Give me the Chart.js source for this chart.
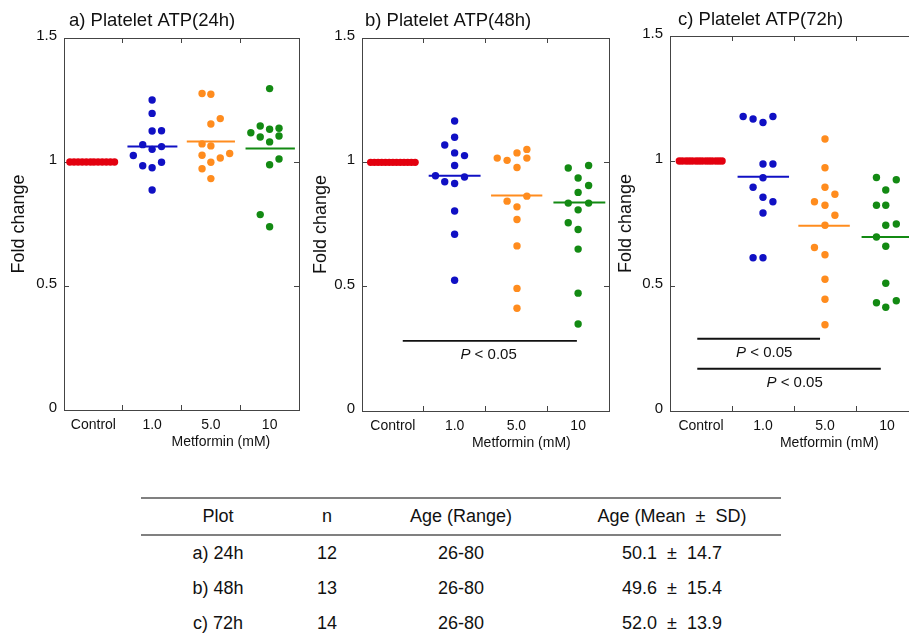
<!DOCTYPE html>
<html>
<head>
<meta charset="utf-8">
<script src="https://cdn.jsdelivr.net/npm/chart.js@4.4.1/dist/chart.umd.min.js"></script>
<style>
  html, body { margin: 0; padding: 0; background: #fff; }
  body { width: 909px; height: 635px; overflow: hidden; position: relative; font-family: "Liberation Sans", Arial, sans-serif; }
  canvas { position: absolute; top: 0; }
  #cA { left: 0; }
  #cB { left: 305px; }
  #cC { left: 612px; }
  table.info { position: absolute; left: 141px; top: 497px; width: 640px; border-collapse: collapse; font-size: 18px; color: #111; }
  table.info th, table.info td { height: 35px; padding: 0; text-align: center; font-weight: normal; white-space: pre; }
  table.info thead tr { border-top: 2px solid #808080; border-bottom: 2px solid #808080; }
</style>
</head>
<body>
<canvas id="cA" width="310" height="460"></canvas>
<canvas id="cB" width="315" height="460"></canvas>
<canvas id="cC" width="317" height="460"></canvas>

<table class="info">
  <colgroup><col style="width:154px"><col style="width:64px"><col style="width:204px"><col style="width:218px"></colgroup>
  <thead id="thead"></thead>
  <tbody id="tbody"></tbody>
</table>

<script>
  // --- data ---
  const categories = ['Control', '1.0', '5.0', '10'];
  const yTicks = [0, 0.5, 1, 1.5];

  // a) 24h
  const a_ctrlX = [0.10, 0.17, 0.24, 0.31, 0.38, 0.45, 0.51, 0.58, 0.65, 0.72, 0.79, 0.86];
  const a_ctrlY = [1, 1, 1, 1, 1, 1, 1, 1, 1, 1, 1, 1];
  const a_blueX = [1.50, 1.50, 1.50, 1.66, 1.34, 1.66, 1.50, 1.18, 1.66, 1.34, 1.50, 1.50];
  const a_blueY = [1.250, 1.196, 1.125, 1.126, 1.070, 1.062, 1.051, 1.026, 0.999, 0.985, 0.977, 0.887];
  const a_orangeX = [2.35, 2.50, 2.66, 2.50, 2.35, 2.50, 2.82, 2.35, 2.66, 2.50, 2.35, 2.50];
  const a_orangeY = [1.276, 1.273, 1.175, 1.153, 1.073, 1.065, 1.034, 1.027, 1.016, 0.999, 0.973, 0.933];
  const a_greenX = [3.50, 3.34, 3.18, 3.50, 3.66, 3.34, 3.66, 3.50, 3.66, 3.50, 3.34, 3.50];
  const a_greenY = [1.296, 1.145, 1.118, 1.132, 1.136, 1.101, 1.105, 1.081, 1.012, 0.989, 0.788, 0.739];
  const a_means = [1.062, 1.083, 1.054];
  const a_spans = [[1.08, 1.93], [2.09, 2.91], [3.09, 3.93]];

  // b) 48h
  const b_ctrlX = [0.14, 0.20, 0.26, 0.32, 0.38, 0.44, 0.50, 0.56, 0.62, 0.68, 0.74, 0.80, 0.86];
  const b_ctrlY = [1, 1, 1, 1, 1, 1, 1, 1, 1, 1, 1, 1, 1];
  const b_blueX = [1.50, 1.50, 1.34, 1.50, 1.66, 1.50, 1.19, 1.66, 1.34, 1.50, 1.50, 1.50, 1.50];
  const b_blueY = [1.166, 1.101, 1.070, 1.038, 1.027, 0.987, 0.946, 0.941, 0.922, 0.915, 0.804, 0.711, 0.526];
  const b_orangeX = [2.19, 2.35, 2.51, 2.67, 2.67, 2.51, 2.67, 2.35, 2.51, 2.51, 2.51, 2.51, 2.51];
  const b_orangeY = [1.017, 1.008, 1.038, 1.052, 1.017, 0.979, 0.864, 0.844, 0.821, 0.770, 0.664, 0.493, 0.413];
  const b_greenX = [3.34, 3.67, 3.50, 3.67, 3.50, 3.34, 3.67, 3.50, 3.34, 3.50, 3.50, 3.50, 3.50];
  const b_greenY = [0.977, 0.987, 0.937, 0.907, 0.879, 0.836, 0.836, 0.809, 0.757, 0.730, 0.651, 0.474, 0.350];
  const b_means = [0.946, 0.867, 0.838];
  const b_spans = [[1.08, 1.92], [2.09, 2.92], [3.10, 3.94]];
  const b_pBars = [{ x0: 0.66, x1: 3.48, y: 0.282, tx: 2.05, ty: 0.224 }];

  // c) 72h
  const c_ctrlX = [0.15, 0.20, 0.26, 0.31, 0.36, 0.42, 0.47, 0.52, 0.58, 0.63, 0.68, 0.74, 0.79, 0.84];
  const c_ctrlY = [1, 1, 1, 1, 1, 1, 1, 1, 1, 1, 1, 1, 1, 1];
  const c_blueX = [1.18, 1.34, 1.50, 1.66, 1.50, 1.66, 1.50, 1.34, 1.50, 1.66, 1.50, 1.34, 1.50];
  const c_blueY = [1.178, 1.168, 1.154, 1.178, 0.988, 0.988, 0.933, 0.895, 0.855, 0.837, 0.792, 0.613, 0.613];
  const c_orangeX = [2.50, 2.50, 2.50, 2.66, 2.33, 2.50, 2.66, 2.50, 2.33, 2.50, 2.50, 2.50, 2.50];
  const c_orangeY = [1.088, 0.973, 0.895, 0.867, 0.837, 0.823, 0.783, 0.743, 0.654, 0.625, 0.527, 0.447, 0.345];
  const c_greenX = [3.33, 3.65, 3.48, 3.33, 3.48, 3.48, 3.65, 3.33, 3.48, 3.48, 3.33, 3.48, 3.65];
  const c_greenY = [0.934, 0.925, 0.884, 0.823, 0.823, 0.743, 0.748, 0.696, 0.659, 0.511, 0.433, 0.415, 0.441];
  const c_means = [0.937, 0.741, 0.696];
  const c_spans = [[1.09, 1.92], [2.07, 2.90], [3.09, 3.92]];
  const c_pBars = [
    { x0: 0.44, x1: 2.42, y: 0.289, tx: 1.52, ty: 0.233 },
    { x0: 0.44, x1: 3.40, y: 0.169, tx: 2.01, ty: 0.113 },
  ];

  // table
  const tableHead = ['Plot', 'n', 'Age (Range)', 'Age (Mean  \u00B1  SD)'];
  const tablePlot = ['a) 24h', 'b) 48h', 'c) 72h'];
  const tableN = ['12', '13', '14'];
  const tableRange = ['26-80', '26-80', '26-80'];
  const tableMeanSd = ['50.1  \u00B1  14.7', '49.6  \u00B1  15.4', '52.0  \u00B1  13.9'];

  // --- styles ---
  const FONT = '"Liberation Sans", Arial, Helvetica, sans-serif';
  const TEXT = '#111';
  const FRAME = '#444';
  const RED = '#e3000f';
  const BLUE = '#1010c4';
  const ORANGE = '#ff8c1e';
  const GREEN = '#138a13';
  Chart.defaults.font.family = FONT;
  Chart.defaults.color = TEXT;

  const toPts = (xs, ys) => xs.map((x, i) => ({ x: x, y: ys[i] }));

  const panelText = {
    id: 'panelText',
    afterDraw(chart, args, opts) {
      const { ctx, chartArea } = chart;
      const xs = chart.scales.x;
      const ys = chart.scales.y;
      ctx.save();
      ctx.fillStyle = TEXT;
      ctx.textBaseline = 'middle';
      ctx.textAlign = 'left';
      ctx.font = '18.5px ' + FONT;
      ctx.fillText(opts.title, opts.titleX, opts.titleY);

      ctx.textAlign = 'center';
      ctx.font = '14px ' + FONT;
      ctx.fillText('Metformin (mM)', xs.getPixelForValue(opts.xTitleAt), chartArea.bottom + 32);

      (opts.pBars || []).forEach((p) => {
        const cx = xs.getPixelForValue(p.tx);
        const cy = ys.getPixelForValue(p.ty);
        const rest = ' < 0.05';
        ctx.font = 'italic 15px ' + FONT;
        const wP = ctx.measureText('P').width;
        ctx.font = '15px ' + FONT;
        const wR = ctx.measureText(rest).width;
        const x0 = cx - (wP + wR) / 2;
        ctx.textAlign = 'left';
        ctx.font = 'italic 15px ' + FONT;
        ctx.fillText('P', x0, cy);
        ctx.font = '15px ' + FONT;
        ctx.fillText(rest, x0 + wP, cy);
      });
      ctx.restore();
    },
  };

  function frameGrid() {
    return { drawOnChartArea: false, tickLength: -5, color: FRAME, lineWidth: 1 };
  }

  function makePanel(id, p) {
    const groups = [
      { x: p.ctrlX, y: p.ctrlY, c: RED },
      { x: p.blueX, y: p.blueY, c: BLUE },
      { x: p.orangeX, y: p.orangeY, c: ORANGE },
      { x: p.greenX, y: p.greenY, c: GREEN },
    ];
    const lineColors = [BLUE, ORANGE, GREEN];
    const datasets = [];

    p.means.forEach((m, i) => {
      datasets.push({
        data: [{ x: p.spans[i][0], y: m }, { x: p.spans[i][1], y: m }],
        showLine: true, borderColor: lineColors[i], borderWidth: 2,
        pointRadius: 0, fill: false,
      });
    });
    (p.pBars || []).forEach((b) => {
      datasets.push({
        data: [{ x: b.x0, y: b.y }, { x: b.x1, y: b.y }],
        showLine: true, borderColor: '#111', borderWidth: 1.8,
        pointRadius: 0, fill: false,
      });
    });
    groups.forEach((g) => {
      datasets.push({
        data: toPts(g.x, g.y),
        showLine: false,
        backgroundColor: g.c,
        borderColor: g.c,
        pointRadius: 3.7,
        pointBorderWidth: 0,
      });
    });

    return new Chart(document.getElementById(id), {
      type: 'scatter',
      data: { datasets: datasets },
      plugins: [panelText],
      options: {
        responsive: false,
        animation: false,
        layout: { padding: 0 },
        plugins: {
          legend: { display: false },
          tooltip: { enabled: false },
          panelText: {
            title: p.title, titleX: p.titleX, titleY: p.titleY,
            xTitleAt: p.xTitleAt, pBars: p.pBars,
          },
        },
        scales: {
          x: { type: 'linear', min: 0, max: 4, display: false },
          xCat: {
            type: 'category', labels: categories, position: 'bottom', offset: true,
            grid: Object.assign(frameGrid(), { offset: true }),
            border: { display: true, color: FRAME, width: 1 },
            ticks: { font: { size: 14 }, color: TEXT, padding: 12, maxRotation: 0, autoSkip: false },
            afterFit: (s) => { s.height = p.bottom; },
          },
          xTop: {
            type: 'category', labels: categories, position: 'top', offset: true,
            grid: Object.assign(frameGrid(), { offset: true }),
            border: { display: true, color: FRAME, width: 1 },
            ticks: { display: false },
            afterFit: (s) => { s.height = p.top; },
          },
          y: {
            type: 'linear', min: 0, max: 1.5, position: 'left',
            afterBuildTicks: (s) => { s.ticks = yTicks.map((v) => ({ value: v })); },
            grid: frameGrid(),
            border: { display: true, color: FRAME, width: 1 },
            ticks: { font: { size: 15 }, color: TEXT, padding: 12, labelOffset: -2, callback: (v) => String(v) },
            title: { display: true, text: 'Fold change', font: { size: 18 }, color: TEXT, padding: { top: p.yTitlePad, bottom: 0 } },
            afterFit: (s) => { s.width = p.left; },
          },
          yR: {
            type: 'linear', min: 0, max: 1.5, position: 'right',
            afterBuildTicks: (s) => { s.ticks = yTicks.map((v) => ({ value: v })); },
            grid: frameGrid(),
            border: { display: true, color: FRAME, width: 1 },
            ticks: { display: false },
            afterFit: (s) => { s.width = p.right; },
          },
        },
      },
    });
  }

  makePanel('cA', {
    title: 'a) Platelet ATP(24h)', titleX: 69, titleY: 21, xTitleAt: 2.67,
    left: 64, right: 11, top: 38, bottom: 50, yTitlePad: 8,
    ctrlX: a_ctrlX, ctrlY: a_ctrlY, blueX: a_blueX, blueY: a_blueY,
    orangeX: a_orangeX, orangeY: a_orangeY, greenX: a_greenX, greenY: a_greenY,
    means: a_means, spans: a_spans,
  });
  makePanel('cB', {
    title: 'b) Platelet ATP(48h)', titleX: 60, titleY: 21, xTitleAt: 2.58,
    left: 57, right: 11, top: 38, bottom: 49, yTitlePad: 5,
    ctrlX: b_ctrlX, ctrlY: b_ctrlY, blueX: b_blueX, blueY: b_blueY,
    orangeX: b_orangeX, orangeY: b_orangeY, greenX: b_greenX, greenY: b_greenY,
    means: b_means, spans: b_spans, pBars: b_pBars,
  });
  makePanel('cC', {
    title: 'c) Platelet ATP(72h)', titleX: 66, titleY: 20, xTitleAt: 2.57,
    left: 58, right: 11, top: 36, bottom: 49, yTitlePad: 3,
    ctrlX: c_ctrlX, ctrlY: c_ctrlY, blueX: c_blueX, blueY: c_blueY,
    orangeX: c_orangeX, orangeY: c_orangeY, greenX: c_greenX, greenY: c_greenY,
    means: c_means, spans: c_spans, pBars: c_pBars,
  });

  // --- table ---
  const thead = document.getElementById('thead');
  const hr = document.createElement('tr');
  tableHead.forEach((t) => { const th = document.createElement('th'); th.textContent = t; hr.appendChild(th); });
  thead.appendChild(hr);
  const tbody = document.getElementById('tbody');
  tablePlot.forEach((plot, i) => {
    const tr = document.createElement('tr');
    [plot, tableN[i], tableRange[i], tableMeanSd[i]].forEach((t) => {
      const td = document.createElement('td'); td.textContent = t; tr.appendChild(td);
    });
    tbody.appendChild(tr);
  });
</script>
</body>
</html>
